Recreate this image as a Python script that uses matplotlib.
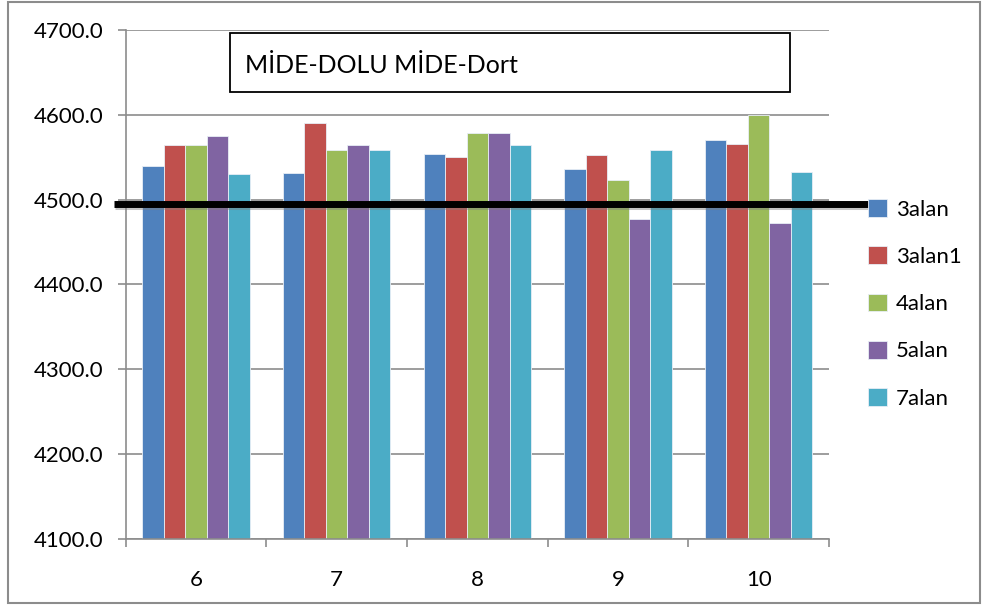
import numpy as np
import matplotlib
matplotlib.use("Agg")
import matplotlib.pyplot as plt
import matplotlib.patheffects as pe
from matplotlib.patches import Rectangle

plt.rcParams['font.family'] = ['Lato', 'DejaVu Sans']

categories = ["6", "7", "8", "9", "10"]
series_names = ["3alan", "3alan1", "4alan", "5alan", "7alan"]
alan3 = [4540, 4531, 4554, 4536, 4570]
alan3_1 = [4565, 4590, 4550, 4553, 4566]
alan4 = [4565, 4558, 4579, 4523, 4600]
alan5 = [4575, 4565, 4579, 4477, 4473]
alan7 = [4530, 4558, 4564, 4559, 4533]
threshold = 4495
chart_title = "MİDE-DOLU MİDE-Dort"

colors = ["#4F81BD", "#C0504D", "#9BBB59", "#8064A2", "#4BACC6"]
grid_gray = "#8C8C8C"

fig = plt.figure(figsize=(9.85, 6.08), dpi=100)
ax = fig.add_axes([0.1276, 0.1135, 0.714, 0.8372])

x = np.arange(len(categories))
width = 0.153
all_series = [alan3, alan3_1, alan4, alan5, alan7]
for i, (name, vals) in enumerate(zip(series_names, all_series)):
    ax.bar(x + (i - 2) * width, np.array(vals) - 4100, width, bottom=4100,
           color=colors[i], edgecolor="#E8EEF6", linewidth=0.6,
           label=name, zorder=2)

ax.set_xlim(-0.5, len(categories) - 0.5)
ax.set_ylim(4100, 4700)
ax.set_yticks(np.arange(4100, 4701, 100))
ax.set_yticklabels([f"{v:.1f}" for v in np.arange(4100, 4701, 100)])
ax.yaxis.grid(True, color=grid_gray, linewidth=1.2, zorder=0)
ax.set_axisbelow(True)

ax.set_xticks(x)
ax.set_xticklabels(categories)
ax.set_xticks(np.arange(-0.5, len(categories)), minor=True)
ax.tick_params(axis="x", which="major", length=0, pad=22, labelsize=16)
ax.tick_params(axis="x", which="minor", length=6, color=grid_gray, width=1.2)
ax.tick_params(axis="y", length=6, color=grid_gray, width=1.2, pad=10,
               labelsize=16)

for s in ["top", "right"]:
    ax.spines[s].set_visible(False)
for s in ["left", "bottom"]:
    ax.spines[s].set_color(grid_gray)
    ax.spines[s].set_linewidth(1.2)

# thick reference line running past the plot into the legend area
line_tr = matplotlib.transforms.blended_transform_factory(ax.transAxes, ax.transData)
ax.plot([-0.0166, 1.071], [threshold, threshold], color="black", linewidth=5,
        transform=line_tr, clip_on=False, zorder=5, solid_capstyle="butt",
        path_effects=[pe.SimpleLineShadow(offset=(1, -1), shadow_color="gray",
                                          alpha=0.45, linewidth=6.5),
                      pe.Normal()])

# title box
fig.text(0.2487, 0.892, chart_title, fontsize=18, va="center", ha="left")
fig.patches.append(Rectangle((0.2335, 0.849), 0.5685, 0.0965, transform=fig.transFigure,
                             fill=False, edgecolor="black", linewidth=1.3, zorder=6))

leg = ax.legend(loc="upper left", bbox_to_anchor=(1.043, 0.685), frameon=False,
                fontsize=16, handlelength=0.85, handleheight=0.85,
                handletextpad=0.4, labelspacing=1.2, borderaxespad=0)

# outer chart border
fig.patches.append(Rectangle((0.008, 0.008), 0.987, 0.988, transform=fig.transFigure,
                             fill=False, edgecolor="#8C8C8C", linewidth=1.5))

fig.savefig("out.png", dpi=100)
